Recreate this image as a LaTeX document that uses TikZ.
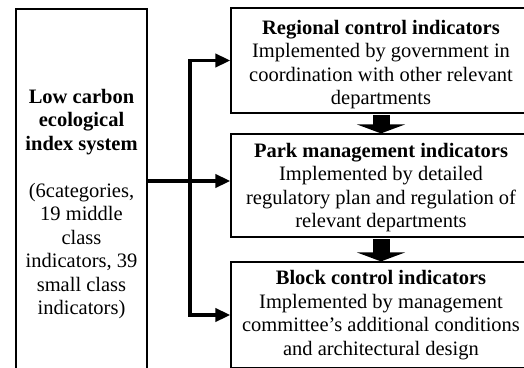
\documentclass[tikz,border=0pt]{standalone}
\usepackage{fontspec}
\setmainfont{Liberation Serif}
\usetikzlibrary{arrows.meta}
\tikzset{
  panel/.style={draw=black, line width=1.2pt, fill=white, inner sep=0pt},
  label text/.style={align=center, inner sep=0pt,
    font=\fontsize{20.5}{23.5}\selectfont},
  bus/.style={line width=3.6pt, miter limit=10,
    -{Triangle[length=15pt,width=13pt]}},
  fat/.style={line width=17pt, -{Triangle[length=9pt,width=48pt]}},
}
\begin{document}
\begin{tikzpicture}[x=1pt,y=-1pt]
\useasboundingbox (0,0) rectangle (524,367);
\clip (0,0) rectangle (524,367);

% left: the index system
\node[panel, minimum width=131pt, minimum height=390pt] (L) at (81.5,204) {};
\node[label text] (Lt) at (L.center)
  {\textbf{Low carbon}\\ \textbf{ecological}\\ \textbf{index system}\\[23.5pt]
   (6categories,\\ 19 middle\\ class\\ indicators, 39\\ small class\\ indicators)};

% right: the three indicator levels
\node[panel, minimum width=300pt, minimum height=105pt] (B1) at (381,60.5) {};
\node[label text] (B1t) at ([yshift=-4pt]B1.center)
  {\textbf{Regional control indicators}\\ Implemented by government in\\
   coordination with other relevant\\ departments};
\node[panel, minimum width=300pt, minimum height=103pt] (B2) at (381,185.5) {};
\node[label text] (B2t) at ([yshift=-2pt]B2.center)
  {\textbf{Park management indicators}\\ Implemented by detailed\\
   regulatory plan and regulation of\\ relevant departments};
\node[panel, minimum width=300pt, minimum height=106pt] (B3) at (381,315) {};
\node[label text] (B3t) at (B3.center)
  {\textbf{Block control indicators}\\ Implemented by management\\
   committee's additional conditions\\ and architectural design};

% branching connectors
\coordinate (j) at (190,181);
\draw[bus] (L.east |- j) -- (B2.west |- j);
\draw[bus] (j) |- (B1.west);
\draw[bus] (j) |- (B3.west);

% block arrows between levels
\draw[fat, shorten <=1.5pt] (B1.south) -- (B2.north);
\draw[fat, shorten <=1.5pt] (B2.south) -- (B3.north);
\end{tikzpicture}
\end{document}
